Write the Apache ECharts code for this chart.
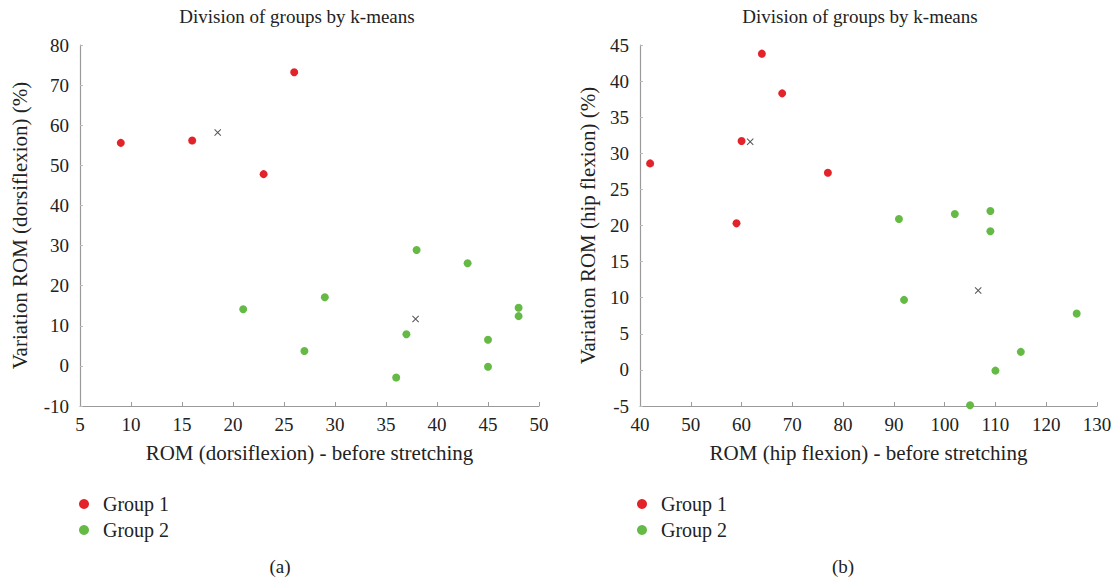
<!DOCTYPE html>
<html><head><meta charset="utf-8">
<script src="https://cdn.jsdelivr.net/npm/echarts@6/dist/echarts.min.js"></script>
<style>html,body{margin:0;padding:0;background:#fff}#c{width:1115px;height:582px}</style>
</head><body><div id="c"></div>
<script>
const chartTitle = "Division of groups by k-means";
const groupNames = ["Group 1", "Group 2"];
const dorsiGroup1 = [[9,55.6],[16,56.2],[23,47.8],[26,73.2]];
const dorsiGroup2 = [[21,14.1],[27,3.7],[29,17.1],[36,-2.9],[37,7.9],[38,28.9],[43,25.6],[45,6.5],[45,-0.2],[48,14.5],[48,12.4]];
const dorsiCentroids = [[18.5,58.2],[37.9,11.7]];
const hipGroup1 = [[42,28.6],[59,20.3],[60,31.7],[64,43.8],[68,38.3],[77,27.3]];
const hipGroup2 = [[91,20.9],[92,9.7],[102,21.6],[105,-4.9],[109,22],[109,19.2],[110,-0.1],[115,2.5],[126,7.8]];
const hipCentroids = [[61.7,31.6],[106.6,11]];

const FONT = "Liberation Serif";
const RED = "#e3232a", GREEN = "#65ba45";
const CROSS = 'path://M0,1L1,0L5,4L9,0L10,1L6,5L10,9L9,10L5,6L1,10L0,9L4,5Z';

function xAx(idx, min, max, interval, name) {
  return {gridIndex: idx, type: 'value', min, max, interval, name, nameLocation: 'middle', nameGap: 36,
    nameTextStyle: {fontFamily: FONT, fontSize: 21, color: '#222'},
    axisLine: {onZero: false, lineStyle: {color: '#9a9a9a', width: 1.2}},
    axisTick: {show: true, inside: true, length: 4, lineStyle: {color: '#9a9a9a'}},
    axisLabel: {fontFamily: FONT, fontSize: 19, color: '#222', margin: 9},
    splitLine: {show: false}};
}
function yAx(idx, min, max, interval, name, gap) {
  return {gridIndex: idx, type: 'value', min, max, interval, name, nameLocation: 'middle', nameGap: gap,
    nameTextStyle: {fontFamily: FONT, fontSize: 21, color: '#222'},
    axisLine: {show: true, onZero: false, lineStyle: {color: '#9a9a9a', width: 1.2}},
    axisTick: {show: true, inside: true, length: 3, lineStyle: {color: '#bbb'}},
    axisLabel: {fontFamily: FONT, fontSize: 19, color: '#222', margin: 11},
    splitLine: {show: false}};
}
function sc(name, idx, data, color) {
  return {name, type: 'scatter', xAxisIndex: idx, yAxisIndex: idx, data, symbol: 'circle', symbolSize: 8,
    itemStyle: {color, opacity: 1}};
}
function cent(idx, data) {
  return {name: 'Centroids', type: 'scatter', xAxisIndex: idx, yAxisIndex: idx, data, symbol: CROSS, symbolSize: 7,
    itemStyle: {color: '#555', opacity: 1}};
}
const legendBase = {orient: 'vertical', icon: 'circle', itemWidth: 28, itemHeight: 10, itemGap: 6, symbolKeepAspect: true,
  textStyle: {fontFamily: FONT, fontSize: 20, color: '#222'}, data: groupNames, top: 489};

function txt(x, y, s, size) {
  return {type: 'text', x, y, style: {text: s, fontFamily: FONT, fontSize: size, fill: '#222',
    textAlign: 'center', align: 'center', textVerticalAlign: 'top', verticalAlign: 'top'}};
}

const chart = echarts.init(document.getElementById('c'), null, {renderer: 'svg'});
chart.setOption({
  animation: false,
  textStyle: {fontFamily: FONT},
  grid: [{left: 80, top: 45, width: 459, height: 361}, {left: 640, top: 45, width: 457, height: 361}],
  xAxis: [xAx(0, 5, 50, 5, 'ROM (dorsiflexion) - before stretching'), xAx(1, 40, 130, 10, 'ROM (hip flexion) - before stretching')],
  yAxis: [yAx(0, -10, 80, 10, 'Variation ROM (dorsiflexion) (%)', 50), yAx(1, -5, 45, 5, 'Variation ROM (hip flexion) (%)', 42)],
  legend: [Object.assign({left: 74}, legendBase), Object.assign({left: 632}, legendBase)],
  series: [
    sc(groupNames[0], 0, dorsiGroup1, RED), sc(groupNames[1], 0, dorsiGroup2, GREEN), cent(0, dorsiCentroids),
    sc(groupNames[0], 1, hipGroup1, RED), sc(groupNames[1], 1, hipGroup2, GREEN), cent(1, hipCentroids)
  ],
  graphic: [
    txt(297, 7, chartTitle, 19), txt(860, 7, chartTitle, 19),
    txt(280, 557, '(a)', 19), txt(843, 557, '(b)', 19)
  ]
});
</script></body></html>
